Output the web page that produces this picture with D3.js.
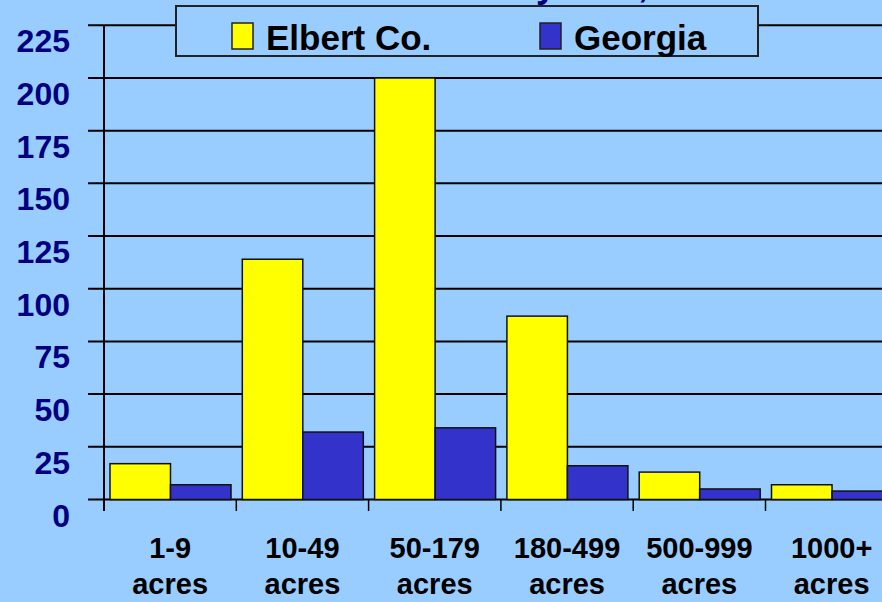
<!DOCTYPE html>
<html>
<head>
<meta charset="utf-8">
<script src="https://cdn.jsdelivr.net/npm/d3@7"></script>
<style>
  html, body { margin: 0; padding: 0; background: #99ccff; overflow: hidden; }
  text { font-family: "Liberation Sans", Arial, sans-serif; font-weight: bold; }
</style>
</head>
<body>
<div id="chart"></div>
<script>
// farms by size, Elbert county vs Georgia
var sizes = ["1-9", "10-49", "50-179", "180-499", "500-999", "1000+"];
var elbert = [17, 114, 200, 87, 13, 7];
var georgia = [7, 32, 34, 16, 5, 4];
var series = ["Elbert Co.", "Georgia"];
var seriesColors = ["#ffff00", "#3333cc"];
var yTicks = [0, 25, 50, 75, 100, 125, 150, 175, 200, 225];

const width = 882;
const height = 602;

var rows = sizes.map(function(s, i) {
  return { size: s, values: [elbert[i], georgia[i]] };
});

const svg = d3.select("#chart").append("svg")
  .attr("width", width)
  .attr("height", height);

var y = d3.scaleLinear()
  .domain([0, 225])
  .range([499.5, 25.3]);

var x0 = d3.scaleBand()
  .domain(sizes)
  .range([104, 104 + 6 * 132.3]);

var x1 = d3.scaleBand()
  .domain(series)
  .range([6, 127]);

// title, mostly cut off at top (as in the original slide)
svg.append("text")
  .attr("x", 396)
  .attr("y", -3)
  .attr("font-size", 36)
  .attr("fill", "#000080")
  .text("Farms by Size, 2002");

// gridlines
svg.append("g").selectAll("line")
  .data(yTicks)
  .enter()
  .append("line")
  .attr("x1", 88)
  .attr("x2", width)
  .attr("y1", function(d) { return y(d) })
  .attr("y2", function(d) { return y(d) })
  .style("stroke", "#000")
  .style("stroke-width", 2);

svg.append("g").selectAll("text")
  .data(yTicks)
  .enter()
  .append("text")
  .attr("x", 70)
  .attr("y", function(d) { return y(d) + 27 })
  .attr("text-anchor", "end")
  .attr("font-size", 32)
  .attr("fill", "#000080")
  .text(function(d) { return d });

// bars
var groups = svg.append("g").selectAll("g")
  .data(rows)
  .enter()
  .append("g")
  .attr("transform", function(d) { return "translate(" + x0(d.size) + ",0)" });

groups.selectAll("rect")
  .data(function(d) { return d.values })
  .enter()
  .append("rect")
  .attr("x", function(d, i) { return x1(series[i]) })
  .attr("width", x1.bandwidth())
  .attr("y", function(d) { return y(d) })
  .attr("height", function(d) { return y(0) - y(d) })
  .style("fill", function(d, i) { return seriesColors[i] })
  .style("stroke", "#111")
  .style("stroke-width", 1.5);

// axis lines
svg.append("line")
  .attr("x1", 104).attr("x2", 104)
  .attr("y1", y(225)).attr("y2", 511)
  .style("stroke", "#000").style("stroke-width", 2);

svg.append("g").selectAll("line")
  .data(sizes)
  .enter()
  .append("line")
  .attr("x1", function(d) { return x0(d) + x0.bandwidth() })
  .attr("x2", function(d) { return x0(d) + x0.bandwidth() })
  .attr("y1", y(0))
  .attr("y2", 511)
  .style("stroke", "#000")
  .style("stroke-width", 1.5);

var catLabels = svg.append("g").selectAll("text")
  .data(sizes)
  .enter()
  .append("text")
  .attr("text-anchor", "middle")
  .attr("font-size", 29)
  .attr("fill", "#000");

catLabels.append("tspan")
  .attr("x", function(d) { return x0(d) + x0.bandwidth() / 2 })
  .attr("y", 558)
  .text(function(d) { return d });
catLabels.append("tspan")
  .attr("x", function(d) { return x0(d) + x0.bandwidth() / 2 })
  .attr("y", 594)
  .text("acres");

// legend
var legend = svg.append("g");
legend.append("rect")
  .attr("x", 176).attr("y", 6)
  .attr("width", 582).attr("height", 50)
  .style("fill", "#99ccff")
  .style("stroke", "#222")
  .style("stroke-width", 2);

var legendX = [232, 540];
var items = legend.selectAll("g")
  .data(series)
  .enter()
  .append("g")
  .attr("transform", function(d, i) { return "translate(" + legendX[i] + ",0)" });

items.append("rect")
  .attr("x", 0).attr("y", 23)
  .attr("width", 21).attr("height", 26)
  .style("fill", function(d, i) { return seriesColors[i] })
  .style("stroke", "#222")
  .style("stroke-width", 1.5);

items.append("text")
  .attr("x", 34)
  .attr("y", 50)
  .attr("font-size", 35)
  .attr("fill", "#000")
  .text(function(d) { return d });
</script>
</body>
</html>
